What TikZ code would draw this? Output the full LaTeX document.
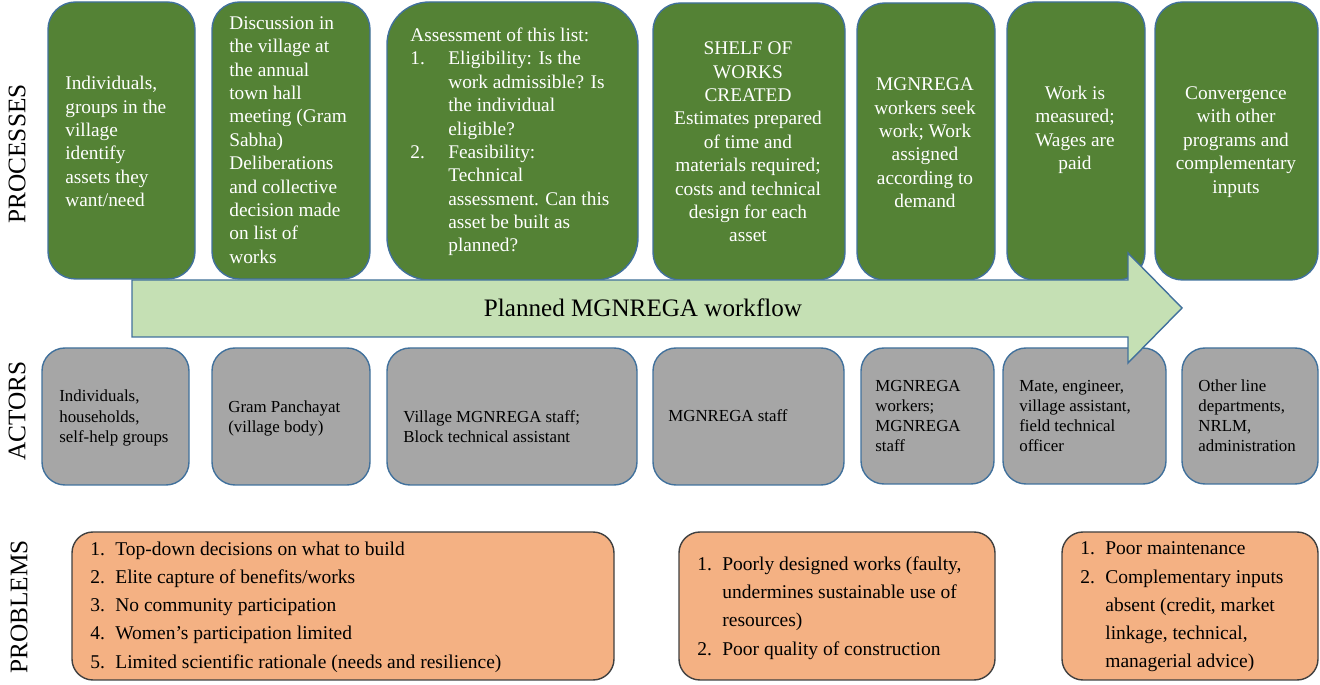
\documentclass[tikz,border=0pt]{standalone}
\usepackage{fontspec}
\setmainfont{Liberation Serif}
\usepackage{tikz}
\usetikzlibrary{positioning}

\definecolor{procgreen}{RGB}{84,130,53}
\definecolor{edgeblue}{RGB}{65,113,156}
\definecolor{flowgreen}{RGB}{197,224,180}
\definecolor{actorgray}{RGB}{166,166,166}
\definecolor{probfill}{RGB}{244,177,131}
\definecolor{probedge}{RGB}{64,64,64}

\tikzset{
    procbox/.style={draw=edgeblue, fill=procgreen, line width=0.8pt, rounded corners=0.55cm},
    actorbox/.style={draw=edgeblue, fill=actorgray, line width=0.8pt, rounded corners=0.46cm},
    probbox/.style={draw=probedge, fill=probfill, line width=0.8pt, rounded corners=0.42cm},
    proctext/.style={text=white, inner sep=0pt, font=\fontsize{11}{13.3}\selectfont},
    actortext/.style={inner sep=0pt, align=left, anchor=west, font=\fontsize{9.6}{11.4}\selectfont},
    probtext/.style={inner sep=0pt, align=left, anchor=west, font=\fontsize{11.1}{16.1}\selectfont},
    rowlabel/.style={rotate=90, inner sep=0pt, font=\fontsize{14.4}{16}\selectfont}
}

% numbered lines with a hanging indent
\newcommand{\listnum}[2]{\makebox[#1][l]{#2}}

\begin{document}
\begin{tikzpicture}[x=0.02cm, y=-0.02cm]
    \useasboundingbox (0,0) rectangle (1320,685);

    % row labels
    \node[rowlabel] (lproc) at (17,154) {PROCESSES};
    \node[rowlabel] (lact) at (17,411) {ACTORS};
    \node[rowlabel] (lprob) at (19,607) {PROBLEMS};

    % processes
    \draw[procbox] (48,2) rectangle (195,279);
    \draw[procbox] (212,2) rectangle (370,279);
    \draw[procbox, rounded corners=0.85cm] (387,2) rectangle (638,280);
    \draw[procbox] (653,3) rectangle (845,280);
    \draw[procbox] (857,3) rectangle (995,280);
    \draw[procbox] (1007,2) rectangle (1145,280);
    \draw[procbox] (1155,2) rectangle (1318,280);

    \node[proctext, align=left, anchor=west] (proc1) at (65,141.5)
        {Individuals,\\groups in the\\village\\identify\\assets they\\want/need};
    \node[proctext, align=left, anchor=west] (proc2) at (229,140)
        {Discussion in\\the village at\\the annual\\town hall\\meeting (Gram\\Sabha)\\Deliberations\\and collective\\decision made\\on list of\\works};
    \node[proctext, align=left, anchor=west] (proc3) at (410,142)
        {Assessment of this list:\\
         \listnum{0.76cm}{1.}Eligibility: Is the\\
         \hspace*{0.76cm}work admissible? Is\\
         \hspace*{0.76cm}the individual\\
         \hspace*{0.76cm}eligible?\\
         \listnum{0.76cm}{2.}Feasibility:\\
         \hspace*{0.76cm}Technical\\
         \hspace*{0.76cm}assessment. Can this\\
         \hspace*{0.76cm}asset be built as\\
         \hspace*{0.76cm}planned?};
    \node[proctext, align=center] (proc4) at (748,142)
        {SHELF OF\\WORKS\\CREATED\\Estimates prepared\\of time and\\materials required;\\costs and technical\\design for each\\asset};
    \node[proctext, align=center] (proc5) at (925,143)
        {MGNREGA\\workers seek\\work; Work\\assigned\\according to\\demand};
    \node[proctext, align=center] (proc6) at (1075,130)
        {Work is\\measured;\\Wages are\\paid};
    \node[proctext, align=center] (proc7) at (1236,142)
        {Convergence\\with other\\programs and\\complementary\\inputs};

    % actors
    \draw[actorbox] (42,348) rectangle (189,485);
    \draw[actorbox] (212,348) rectangle (370,485);
    \draw[actorbox] (387,348) rectangle (637,485);
    \draw[actorbox] (653,348) rectangle (844,485);
    \draw[actorbox] (861,348) rectangle (994,484);
    \draw[actorbox] (1003,348) rectangle (1166,484);
    \draw[actorbox] (1182,348) rectangle (1318,484);

    \node[actortext] (act1) at (59,418) {Individuals,\\households,\\self-help groups};
    \node[actortext] (act2) at (228,418) {Gram Panchayat\\(village body)};
    \node[actortext] (act3) at (403,427) {Village MGNREGA staff;\\Block technical assistant};
    \node[actortext] (act4) at (668,416) {MGNREGA staff};
    \node[actortext] (act5) at (875,416) {MGNREGA\\workers;\\MGNREGA\\staff};
    \node[actortext] (act6) at (1019,416) {Mate, engineer,\\village assistant,\\field technical\\officer};
    \node[actortext] (act7) at (1198,416) {Other line\\departments,\\NRLM,\\administration};

    % workflow arrow, laid over both rows
    \draw[draw=edgeblue, fill=flowgreen, line width=0.8pt]
        (132,280) -- (1128,280) -- (1128,253) -- (1182,308)
        -- (1128,363) -- (1128,337) -- (132,337) -- cycle;
    \node[inner sep=0pt, font=\fontsize{14.3}{16}\selectfont] (flow) at (643,308) {Planned MGNREGA workflow};

    % problems
    \draw[probbox] (72,532) rectangle (614,680);
    \draw[probbox] (679,532) rectangle (995,680);
    \draw[probbox] (1062,532) rectangle (1318,680);

    \node[probtext] (prob1) at (90,607)
        {\listnum{0.5cm}{1.}Top-down decisions on what to build\\
         \listnum{0.5cm}{2.}Elite capture of benefits/works\\
         \listnum{0.5cm}{3.}No community participation\\
         \listnum{0.5cm}{4.}Women’s participation limited\\
         \listnum{0.5cm}{5.}Limited scientific rationale (needs and resilience)};
    \node[probtext] (prob2) at (697,608)
        {\listnum{0.5cm}{1.}Poorly designed works (faulty,\\
         \hspace*{0.5cm}undermines sustainable use of\\
         \hspace*{0.5cm}resources)\\
         \listnum{0.5cm}{2.}Poor quality of construction};
    \node[probtext] (prob3) at (1080,607)
        {\listnum{0.5cm}{1.}Poor maintenance\\
         \listnum{0.5cm}{2.}Complementary inputs\\
         \hspace*{0.5cm}absent (credit, market\\
         \hspace*{0.5cm}linkage, technical,\\
         \hspace*{0.5cm}managerial advice)};
\end{tikzpicture}
\end{document}
